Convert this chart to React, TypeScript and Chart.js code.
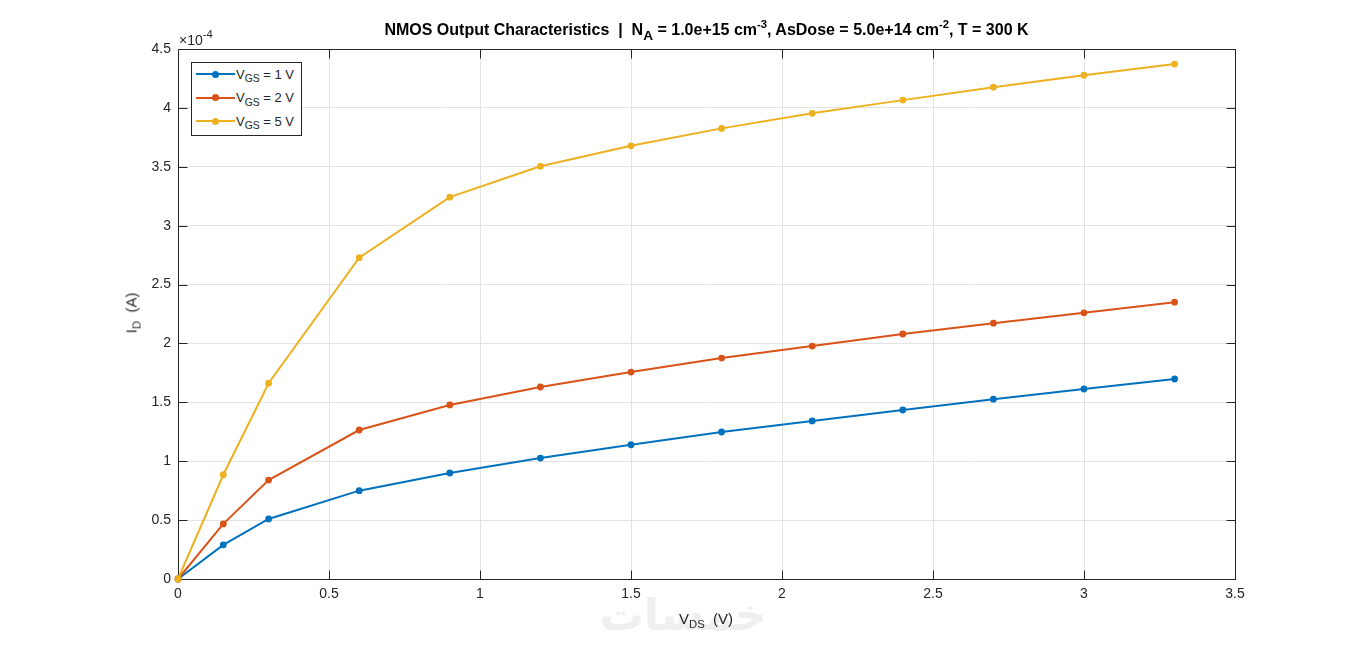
import { useEffect, useRef } from 'react';
import { Chart, registerables } from 'chart.js';

Chart.register(...registerables);

// drain-source voltage (V)
const vds = [0, 0.15, 0.3, 0.6, 0.9, 1.2, 1.5, 1.8, 2.1, 2.4, 2.7, 3.0, 3.3];
// drain current, in units of 1e-4 A
const idVgs1 = [0, 0.29, 0.51, 0.75, 0.9, 1.027, 1.14, 1.248, 1.342, 1.435, 1.527, 1.613, 1.698];
const idVgs2 = [0, 0.468, 0.84, 1.265, 1.478, 1.63, 1.757, 1.876, 1.978, 2.08, 2.172, 2.26, 2.35];
const idVgs5 = [0, 0.885, 1.662, 2.728, 3.242, 3.504, 3.678, 3.826, 3.954, 4.066, 4.176, 4.278, 4.372];

const gateVoltages = ['1', '2', '5'];
const colors = ['#0072BD', '#D95319', '#EDB120'];

const xTicks = [0, 0.5, 1, 1.5, 2, 2.5, 3, 3.5];
const yTicks = [0, 0.5, 1, 1.5, 2, 2.5, 3, 3.5, 4, 4.5];

const FONT = '"Liberation Sans", Arial, sans-serif';
const INK = '#262626';

const area = { left: 178, right: 1235, top: 49, bottom: 579 };

// MATLAB style box with inward ticks
const boxPlugin = {
  id: 'matlabBox',
  beforeDatasetsDraw(chart: any) {
    const { ctx, chartArea: a, scales } = chart;
    const L = 9;
    ctx.save();
    ctx.strokeStyle = INK;
    ctx.lineWidth = 1;
    const line = (x1: number, y1: number, x2: number, y2: number) => {
      ctx.beginPath();
      ctx.moveTo(x1, y1);
      ctx.lineTo(x2, y2);
      ctx.stroke();
    };
    const l = Math.round(a.left) + 0.5;
    const r = Math.round(a.right) + 0.5;
    const t = Math.round(a.top) + 0.5;
    const b = Math.round(a.bottom) + 0.5;
    ctx.strokeRect(l, t, r - l, b - t);
    scales.x.ticks.forEach((tk: any) => {
      const px = Math.round(scales.x.getPixelForValue(tk.value)) + 0.5;
      line(px, b, px, b - L);
      line(px, t, px, t + L);
    });
    scales.y.ticks.forEach((tk: any) => {
      const py = Math.round(scales.y.getPixelForValue(tk.value)) + 0.5;
      line(l, py, l + L, py);
      line(r, py, r - L, py);
    });
    ctx.restore();
  },
};

function Sub({ children, size = '0.75em', drop = '0.35em' }: any) {
  return <span style={{ fontSize: size, position: 'relative', top: drop }}>{children}</span>;
}

function Sup({ children, size = '0.7em' }: any) {
  return <span style={{ fontSize: size, position: 'relative', top: '-0.6em' }}>{children}</span>;
}

export default function App() {
  const canvasRef = useRef<HTMLCanvasElement>(null);
  const chartRef = useRef<Chart | null>(null);

  useEffect(() => {
    if (!canvasRef.current) return;
    const series = [idVgs1, idVgs2, idVgs5];
    chartRef.current = new Chart(canvasRef.current, {
      type: 'line',
      data: {
        datasets: series.map((ys, i) => ({
          label: `VGS = ${gateVoltages[i]} V`,
          data: vds.map((x, k) => ({ x, y: ys[k] })),
          borderColor: colors[i],
          backgroundColor: colors[i],
          pointBackgroundColor: colors[i],
          pointBorderColor: colors[i],
          borderWidth: 2,
          pointRadius: 3.4,
          pointBorderWidth: 0,
          tension: 0,
          clip: false as any,
          order: 2 - i,
        })),
      },
      options: {
        responsive: true,
        maintainAspectRatio: false,
        animation: false,
        layout: { padding: { left: 0, top: area.top, right: 1366 - area.right, bottom: 0 } },
        plugins: {
          legend: { display: false },
          title: { display: false },
          tooltip: { enabled: false },
        },
        scales: {
          x: {
            type: 'linear',
            min: 0,
            max: 3.5,
            afterBuildTicks: (s: any) => { s.ticks = xTicks.map((value) => ({ value })); },
            afterFit: (s: any) => { s.height = 651 - area.bottom; },
            ticks: {
              color: INK,
              font: { family: FONT, size: 14 },
              padding: 7,
              maxRotation: 0,
              callback: (v: any) => String(+v),
            },
            grid: { color: '#e3e3e3', drawTicks: false, lineWidth: 1 },
            border: { display: false },
          },
          y: {
            type: 'linear',
            min: 0,
            max: 4.5,
            afterBuildTicks: (s: any) => { s.ticks = yTicks.map((value) => ({ value })); },
            afterFit: (s: any) => { s.width = area.left; },
            ticks: {
              color: INK,
              font: { family: FONT, size: 14 },
              padding: 7,
              callback: (v: any) => String(+v),
            },
            grid: { color: '#e3e3e3', drawTicks: false, lineWidth: 1 },
            border: { display: false },
          },
        },
      },
      plugins: [boxPlugin],
    });
    return () => {
      chartRef.current?.destroy();
      chartRef.current = null;
    };
  }, []);

  const abs = (s: any) => ({ position: 'absolute' as const, pointerEvents: 'none' as const, color: INK, fontFamily: FONT, whiteSpace: 'nowrap' as const, ...s });

  return (
    <div style={{ position: 'fixed', left: 0, top: 0, width: 1366, height: 651, background: '#fff', overflow: 'hidden' }}>
      {/* faint watermark */}
      <div style={abs({ left: 598, top: 590, width: 170, textAlign: 'center', fontFamily: '"DejaVu Sans", sans-serif', fontWeight: 'bold', fontSize: 44, color: '#efefef', lineHeight: '50px' })}>
        خمسات
      </div>
      <div style={{ position: 'absolute', inset: 0 }}>
        <canvas ref={canvasRef} />
      </div>

      {/* title */}
      <div style={abs({ left: area.left, width: area.right - area.left, top: 20, textAlign: 'center', fontWeight: 'bold', fontSize: 16, lineHeight: '20px', color: '#000' })}>
        NMOS Output Characteristics &nbsp;|&nbsp; N<Sub size="0.85em" drop="0.4em">A</Sub> = 1.0e+15 cm<Sup>-3</Sup>, AsDose = 5.0e+14 cm<Sup>-2</Sup>, T = 300 K
      </div>

      {/* exponent */}
      <div style={abs({ left: 179, top: 32, fontSize: 14, lineHeight: '16px' })}>
        ×10<Sup size="0.8em">-4</Sup>
      </div>

      {/* y axis label */}
      <div style={abs({ left: 132, top: 313, fontSize: 15, lineHeight: '16px', transform: 'translate(-50%, -50%) rotate(-90deg)' })}>
        I<Sub>D</Sub>&nbsp; (A)
      </div>

      {/* x axis label */}
      <div style={abs({ left: 706, top: 611, fontSize: 15, lineHeight: '16px', transform: 'translateX(-50%)' })}>
        V<Sub>DS</Sub>&nbsp; (V)
      </div>

      {/* legend */}
      <div style={abs({ left: 191, top: 62, width: 111, height: 74, border: `1px solid ${INK}`, background: '#fff', boxSizing: 'border-box' })}>
        {gateVoltages.map((v, i) => (
          <div key={v} style={{ position: 'absolute', left: 0, top: 1 + i * 23.5, height: 20, display: 'flex', alignItems: 'center' }}>
            <div style={{ position: 'relative', width: 39, height: 20, marginLeft: 4 }}>
              <div style={{ position: 'absolute', left: 0, right: 0, top: 9, height: 2, background: colors[i] }} />
              <div style={{ position: 'absolute', left: 16, top: 6.5, width: 7, height: 7, borderRadius: '50%', background: colors[i] }} />
            </div>
            <span style={{ fontSize: 13, marginLeft: 1 }}>
              V<Sub size="0.8em">GS</Sub> = {v} V
            </span>
          </div>
        ))}
      </div>
    </div>
  );
}
